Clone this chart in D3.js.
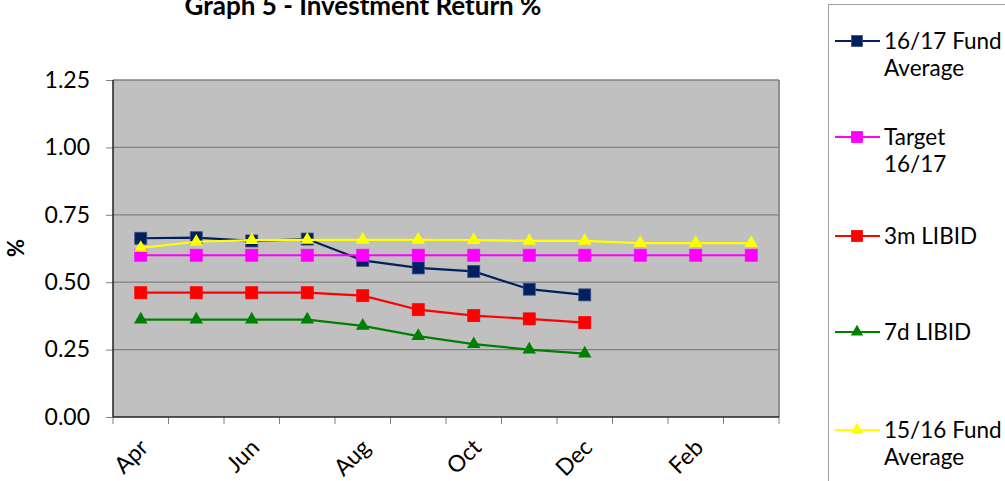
<!DOCTYPE html>
<meta charset="utf-8">
<style>
body { margin: 0; background: #fff; }
svg, svg text { font-family: Lato, "Open Sans", sans-serif; }
.grid line { stroke: #808080; stroke-width: 1.2; }
.axis text { font-family: Lato, sans-serif; font-size: 23px; fill: #000; }
.axis path, .axis line { stroke: #808080; }
.legend text { font-size: 22.5px; }
</style>
<svg width="1005" height="481"></svg>
<script src="https://cdn.jsdelivr.net/npm/d3@7"></script>
<script>

var months = ["Apr", "May", "Jun", "Jul", "Aug", "Sep", "Oct", "Nov", "Dec", "Jan", "Feb", "Mar"];
var monthLabels = ["Apr", "", "Jun", "", "Aug", "", "Oct", "", "Dec", "", "Feb", ""];
var yTicks = [0, 0.25, 0.5, 0.75, 1.0, 1.25];

var fund1617 = [0.663, 0.665, 0.653, 0.660, 0.581, 0.553, 0.540, 0.474, 0.453];
var target1617 = [0.60, 0.60, 0.60, 0.60, 0.60, 0.60, 0.60, 0.60, 0.60, 0.60, 0.60, 0.60];
var libid3m = [0.461, 0.461, 0.461, 0.461, 0.450, 0.398, 0.376, 0.364, 0.350];
var libid7d = [0.361, 0.361, 0.361, 0.361, 0.338, 0.300, 0.270, 0.250, 0.235];
var fund1516 = [0.627, 0.650, 0.656, 0.657, 0.657, 0.657, 0.656, 0.653, 0.653, 0.645, 0.645, 0.645];

var series = [
  {name: ["16/17 Fund", "Average"], values: fund1617, color: "#002060", shape: "square"},
  {name: ["Target", "16/17"], values: target1617, color: "#ff00ff", shape: "square"},
  {name: ["3m LIBID"], values: libid3m, color: "#ff0000", shape: "square"},
  {name: ["7d LIBID"], values: libid7d, color: "#008000", shape: "triangle"},
  {name: ["15/16 Fund", "Average"], values: fund1516, color: "#ffff00", shape: "triangle"}
];

var svg = d3.select("svg");
var margin = {left: 113, right: 226, top: 80, bottom: 64};
var width = 1005 - margin.left - margin.right,
    height = 481 - margin.top - margin.bottom;

var g = svg.append("g").attr("transform", "translate(" + margin.left + "," + margin.top + ")");

var x = d3.scaleBand().domain(months).range([0, width]);
var y = d3.scaleLinear().domain([0, 1.25]).range([height, 0]);

// plot background
g.append("rect").attr("width", width).attr("height", height).attr("fill", "#c0c0c0");

g.append("g").attr("class", "grid")
  .selectAll("line").data(yTicks.slice(1, -1)).enter().append("line")
  .attr("x1", 0).attr("x2", width)
  .attr("y1", function(d) { return y(d); }).attr("y2", function(d) { return y(d); });

// frame
g.append("line").attr("x1", width).attr("x2", width).attr("y1", 0).attr("y2", height)
  .attr("stroke", "#909090").attr("stroke-width", 2);
g.append("line").attr("x1", 0).attr("x2", width).attr("y1", 0).attr("y2", 0)
  .attr("stroke", "#808080").attr("stroke-width", 1.5);

// y axis
var yAxis = g.append("g").attr("class", "axis")
  .call(d3.axisLeft(y).tickValues(yTicks).tickFormat(d3.format(".2f")).tickSize(7).tickPadding(16));
yAxis.attr("font-family", null).attr("font-size", null);
yAxis.select(".domain").remove();
g.append("line").attr("x1", 0).attr("x2", 0).attr("y1", 0).attr("y2", height)
  .attr("stroke", "#222").attr("stroke-width", 1.5);

// x axis: ticks at category boundaries
var xa = g.append("g").attr("class", "axis").attr("transform", "translate(0," + height + ")");
xa.selectAll("line.tk").data(d3.range(months.length + 1)).enter().append("line")
  .attr("class", "tk")
  .attr("x1", function(i) { return i * x.step(); }).attr("x2", function(i) { return i * x.step(); })
  .attr("y1", 0).attr("y2", 7).attr("stroke", "#a0a0a0");
xa.selectAll("text").data(months).enter().append("text")
  .attr("text-anchor", "end")
  .attr("transform", function(d) {
    return "translate(" + (x(d) + x.bandwidth() / 2 + 9) + ",32) rotate(-45)";
  })
  .text(function(d, i) { return monthLabels[i]; });
g.append("line").attr("x1", 0).attr("x2", width).attr("y1", height).attr("y2", height)
  .attr("stroke", "#222").attr("stroke-width", 1.5);

// y label
svg.append("text").attr("transform", "translate(24,248) rotate(-90)")
  .attr("text-anchor", "middle").attr("font-size", 22).attr("font-weight", "bold").text("%");

// title
svg.append("text").attr("x", 363).attr("y", 15).attr("text-anchor", "middle")
  .attr("font-size", 26).attr("font-weight", "bold")
  .text("Graph 5 - Investment Return %");

var line = d3.line()
  .x(function(d, i) { return x(months[i]) + x.bandwidth() / 2; })
  .y(function(d) { return y(d); });

function marker(sel, shape, color, size) {
  if (shape === "square") {
    sel.append("rect").attr("x", -size / 2).attr("y", -size / 2)
      .attr("width", size).attr("height", size).attr("fill", color)
      .attr("stroke", color === "#002060" ? "#3a4f80" : color).attr("stroke-width", 0.8);
  } else {
    var s = size * 1.05;
    sel.append("path").attr("d", d3.symbol().type(d3.symbolTriangle).size(s * s * 0.5)())
      .attr("fill", color);
  }
}

series.forEach(function(s) {
  var sg = g.append("g");
  sg.append("path").datum(s.values).attr("d", line)
    .attr("fill", "none").attr("stroke", s.color).attr("stroke-width", 2.2);
  sg.selectAll("g.m").data(s.values).enter().append("g")
    .attr("transform", function(d, i) {
      return "translate(" + (x(months[i]) + x.bandwidth() / 2) + "," + y(d) + ")";
    })
    .each(function() { marker(d3.select(this), s.shape, s.color, 12); });
});

// legend
var lg = svg.append("g").attr("class", "legend");
lg.append("rect").attr("x", 828.5).attr("y", 4.5).attr("width", 200).attr("height", 500)
  .attr("fill", "#fff").attr("stroke", "#a0a0a0");
var legendY = [41, 137, 236, 332, 430];
series.forEach(function(s, i) {
  var it = lg.append("g").attr("transform", "translate(0," + legendY[i] + ")");
  it.append("line").attr("x1", 835).attr("x2", 880).attr("y1", 0).attr("y2", 0)
    .attr("stroke", s.color).attr("stroke-width", 2.2);
  var mg = it.append("g").attr("transform", "translate(857,0)");
  marker(mg, s.shape, s.color, 11);
  s.name.forEach(function(t, j) {
    it.append("text").attr("x", 884).attr("y", j * 27).attr("dy", "0.35em").text(t);
  });
});

</script>
